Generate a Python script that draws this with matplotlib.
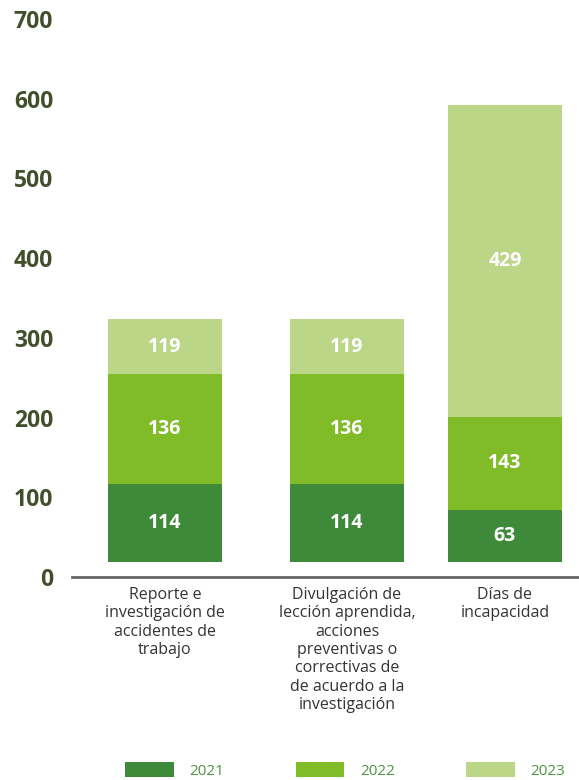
import matplotlib.pyplot as plt
import numpy as np

categorias = [
    'Reporte e\ninvestigación de\naccidentes de\ntrabajo',
    'Divulgación de\nlección aprendida,\nacciones\npreventivas o\ncorrectivas de\nde acuerdo a la\ninvestigación',
    'Días de\nincapacidad',
]
anios = ['2021', '2022', '2023']

# valores impresos en las barras
etiquetas = {
    '2021': [114, 114, 63],
    '2022': [136, 136, 143],
    '2023': [119, 119, 429],
}
# altura dibujada de cada tramo (leída del gráfico, no está a escala)
alturas = {
    '2021': [98, 98, 65],
    '2022': [138, 138, 117],
    '2023': [68, 68, 391],
}
colores = {'2021': '#3f8a3a', '2022': '#80bb28', '2023': '#bcd687'}

plt.rcParams['font.family'] = ['Open Sans', 'DejaVu Sans']

fig = plt.figure(figsize=(5.79, 7.80), dpi=100)
ax = fig.add_axes([72 / 579, 203 / 780, 507 / 579, 574 / 780])

x = np.array([0, 1.0, 1.868])
ancho = 0.626
base = np.full(3, 19.0)  # separación entre eje y barras

for anio in anios:
    h = np.array(alturas[anio])
    bars = ax.bar(x, h, ancho, bottom=base, color=colores[anio], label=anio)
    for xi, b, hi, lab in zip(x, base, h, etiquetas[anio]):
        ax.text(xi, b + hi / 2, str(lab), ha='center', va='center',
                color='white', fontsize=14, fontweight='bold')
    base = base + h

ax.set_xlim(-0.511, 2.275)
ax.set_ylim(0, 720)
ax.set_yticks(range(0, 701, 100))
ax.tick_params(axis='y', length=0, pad=13.5, labelsize=16.5, labelcolor='#434f2b')
for t in ax.get_yticklabels():
    t.set_fontweight('bold')

ax.set_xticks(x)
ax.set_xticklabels(categorias, fontsize=11.5, color='#333333', linespacing=1.2)
ax.tick_params(axis='x', length=0, pad=7)

for s in ['top', 'right', 'left']:
    ax.spines[s].set_visible(False)
ax.spines['bottom'].set_color('#666666')
ax.spines['bottom'].set_linewidth(2)

leg = fig.legend(loc='lower left', bbox_to_anchor=(111 / 579, -0.016), ncol=3,
                 frameon=False, fontsize=11, handlelength=3.2, handleheight=1.05,
                 handletextpad=1.0, columnspacing=4.7)
for t in leg.get_texts():
    t.set_color('#4a9440')

fig.savefig('out.png', dpi=100)
